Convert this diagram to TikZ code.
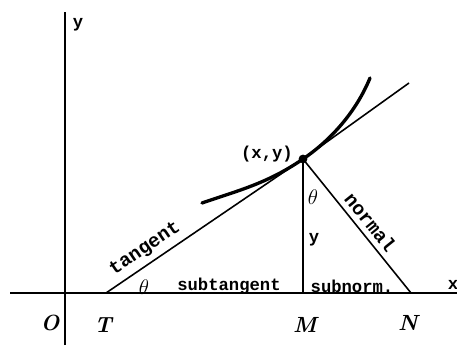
\documentclass[tikz,border=0pt]{standalone}
\usepackage{fontspec}
\setmonofont{Liberation Mono}
\usetikzlibrary{calc}
\tikzset{
  axis/.style={line width=0.8pt},
  seg/.style={line width=0.9pt},
  graph/.style={line width=1.9pt, line cap=round},
  word/.style={font=\ttfamily\bfseries\fontsize{9.8}{12}\selectfont, inner sep=1pt},
  slopeword/.style={font=\ttfamily\bfseries\fontsize{11}{13}\selectfont, inner sep=1pt},
  ptlabel/.style={font=\bfseries\itshape\fontsize{12.5}{14}\selectfont, inner sep=1pt},
  anglelabel/.style={font=\fontsize{12}{14}\selectfont, inner sep=1pt}
}

\begin{document}
\begin{tikzpicture}[x=0.02cm, y=-0.02cm]
\useasboundingbox (0,0) rectangle (457,355);

% points
\coordinate (O) at (65,293);
\coordinate (T) at (106,293);
\coordinate (P) at (303,159);
\coordinate (M) at (303,293);
\coordinate (N) at (411,293);
\coordinate (xl) at (10,293);
\coordinate (xr) at (457,293);
\coordinate (yt) at (65,12);
\coordinate (yb) at (65,345);
\coordinate (tanend) at (409,83);
\coordinate (cstart) at (202,203);
\coordinate (cend) at (370,78);

% axes
\draw[axis] (xl) -- (xr);
\draw[axis] (yb) -- (yt);

% curve through (x,y)
\draw[graph] (cstart) .. controls (240,190) and (268,183) .. (P)
  .. controls (331,140) and (356,112) .. (cend);

% tangent, ordinate, normal
\draw[seg] (T) -- node[slopeword, sloped, above, pos=0.24, yshift=2pt] (tanlab) {tangent} (P) -- (tanend);
\draw[seg] (P) -- (M);
\draw[seg] (P) -- node[slopeword, sloped, above, pos=0.53, yshift=2pt] (normlab) {normal} (N);
\fill (P) circle[radius=2.5pt];

% labels
\node[word] (pxy) at (267,154) {(x,y)};
\node[word] (xlab) at (453,285) {x};
\node[word] (ylab) at (78,25) {y};
\node[word] (ord) at (314,240) {y};
\node[word] (subt) at (229,286) {subtangent};
\node[word] (subn) at (352,286) {subnorm.};
\node[anglelabel] (thP) at (313,197) {$\theta$};
\node[anglelabel] (thT) at (144,287) {$\theta$};
\node[ptlabel] (Olab) at (50,323) {O};
\node[ptlabel] (Tlab) at (103,325) {T};
\node[ptlabel] (Mlab) at (305,325) {M};
\node[ptlabel] (Nlab) at (408,323) {N};

\end{tikzpicture}
\end{document}
